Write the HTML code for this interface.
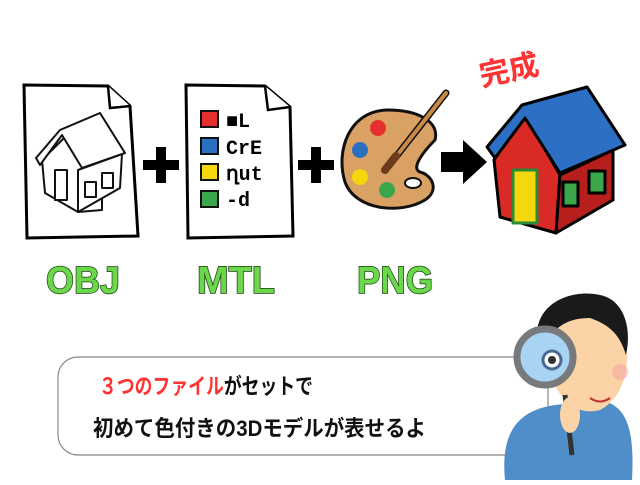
<!DOCTYPE html>
<html><head><meta charset="utf-8"><style>
body{margin:0;width:640px;height:480px;background:#fff;overflow:hidden;font-family:"Liberation Sans","Noto Sans CJK JP",sans-serif}
</style></head><body>
<svg width="640" height="480" viewBox="0 0 640 480" xmlns="http://www.w3.org/2000/svg">
<!-- OBJ doc -->
<path d="M24 85 L108 86 L130 106 L138 236 L27 238 Z" fill="#fff" stroke="#000" stroke-width="3"/>
<path d="M108 86 L110 108 L130 106" fill="#fff" stroke="#000" stroke-width="2.5"/>
<g fill="#fff" stroke="#111" stroke-width="2" stroke-linejoin="round">
<path d="M42 160 L72 130 L102 178 L102 210 L78 212 L45 193 Z"/>
<path d="M78 212 L78 170 L122 154 L120 188 Z"/>
<path d="M36 158 L60 130 L100 113 L125 153 L82 168 L62 135 L40 165 Z"/>
<rect x="55" y="170" width="12" height="30"/>
<rect x="85" y="182" width="11" height="15"/><rect x="102" y="173" width="11" height="15"/>
</g>
<!-- plus -->
<g fill="#000"><rect x="143" y="160" width="36" height="10"/><rect x="156" y="147" width="10" height="36"/>
<rect x="298" y="160" width="36" height="10"/><rect x="311" y="147" width="10" height="36"/></g>
<!-- MTL doc -->
<path d="M186 85 L265 86 L290 107 L293 236 L188 238 Z" fill="#fff" stroke="#000" stroke-width="3"/>
<path d="M265 86 L268 110 L290 107" fill="#fff" stroke="#000" stroke-width="2.5"/>
<g stroke="#111" stroke-width="2">
<rect x="201" y="111" width="17" height="16" fill="#e53030"/>
<rect x="201" y="138" width="17" height="16" fill="#2b6fc0"/>
<rect x="201" y="164" width="17" height="16" fill="#f5d70e"/>
<rect x="201" y="191" width="17" height="16" fill="#3aa84a"/>
</g>
<g fill="#000" font-family="Liberation Mono,monospace" font-weight="bold" font-size="20">
<text x="226" y="127">■L</text><text x="226" y="154">CrE</text><text x="226" y="180">ղut</text><text x="226" y="206">-d</text>
</g>
<!-- palette -->
<path d="M388 110 C350 110 335 150 345 182 C355 210 400 215 425 200 C440 190 432 175 420 172 C410 168 425 150 435 140 C440 120 415 110 388 110 Z" fill="#d9a163" stroke="#111" stroke-width="3"/>
<circle cx="378" cy="128" r="8" fill="#e53030"/><circle cx="360" cy="150" r="8" fill="#2b6fc0"/>
<circle cx="360" cy="177" r="8" fill="#f5d70e"/><circle cx="387" cy="190" r="8" fill="#3aa84a"/>
<ellipse cx="413" cy="183" rx="8" ry="5" fill="#fff" stroke="#111" stroke-width="2"/>
<path d="M446 93 L395 158" stroke="#111" stroke-width="7" stroke-linecap="round"/>
<path d="M446 93 L395 158" stroke="#c98a45" stroke-width="4" stroke-linecap="round"/>
<path d="M396 156 L385 170" stroke="#6b3b1b" stroke-width="8" stroke-linecap="round"/>
<!-- arrow -->
<path d="M441 152 L463 152 L463 140 L487 162 L463 184 L463 172 L441 172 Z" fill="#000"/>
<!-- house -->
<g stroke="#000" stroke-width="3" stroke-linejoin="round">
<path d="M494 160 L525 115 L560 175 L556 233 L500 217 Z" fill="#d92a25"/>
<path d="M560 175 L613 150 L613 200 L556 233 Z" fill="#b61f1c"/>
<path d="M487 147 L522 105 L587 87 L625 145 L560 173 L525 118 L495 158 Z" fill="#2d6fc4"/>
<rect x="513" y="170" width="24" height="53" fill="#f5d70e" stroke="#2a8a35"/>
<rect x="563" y="182" width="15" height="24" fill="#3aa84a"/>
<rect x="589" y="171" width="16" height="22" fill="#3aa84a"/>
</g>
<text x="478" y="80" fill="#ff3333" font-size="30" font-weight="bold" transform="rotate(-12 510 65)">完成</text>
<!-- labels -->
<g font-size="38" font-weight="bold" fill="#6ad84a" stroke="#1a3d10" stroke-width="1.5" paint-order="stroke">
<text x="46" y="293" textLength="74" lengthAdjust="spacingAndGlyphs">OBJ</text>
<text x="197" y="293" textLength="78" lengthAdjust="spacingAndGlyphs">MTL</text>
<text x="357" y="293" textLength="76" lengthAdjust="spacingAndGlyphs">PNG</text>
</g>
<!-- bubble -->
<rect x="58" y="357" width="490" height="98" rx="20" fill="#fff" stroke="#888" stroke-width="1.2"/>
<text x="99" y="394" font-size="22" font-weight="bold" fill="#111" textLength="214" lengthAdjust="spacingAndGlyphs"><tspan fill="#ff3333">３つのファイル</tspan>がセットで</text>
<text x="93" y="436" font-size="22" font-weight="bold" fill="#111" textLength="333" lengthAdjust="spacingAndGlyphs">初めて色付きの3Dモデルが表せるよ</text>
<!-- person -->
<path d="M505 480 C500 430 520 410 555 405 L600 400 C625 405 635 425 632 480 Z" fill="#4f8ec8"/>
<path d="M545 330 C545 300 595 290 615 315 C635 345 630 395 600 410 C570 418 545 390 545 330 Z" fill="#fbd3a7"/>
<path d="M538 345 C530 305 570 288 600 295 C625 300 632 330 626 355 C620 335 610 325 590 318 C570 318 555 325 545 345 Z" fill="#1a1a1a"/>
<circle cx="620" cy="372" r="8" fill="#f7a8a0" opacity="0.6"/>
<path d="M565 395 L572 455" stroke="#333" stroke-width="5"/>
<ellipse cx="570" cy="415" rx="10" ry="18" fill="#fbd3a7"/>
<circle cx="545" cy="357" r="28" fill="#a9d3f2" stroke="#77797d" stroke-width="7"/>
<circle cx="552" cy="360" r="9" fill="#fff" stroke="#4a6890" stroke-width="3"/>
<circle cx="552" cy="360" r="4" fill="#333"/>
<path d="M590 398 Q600 405 610 398" stroke="#b33" stroke-width="2" fill="none"/>
</svg>
</body></html>
